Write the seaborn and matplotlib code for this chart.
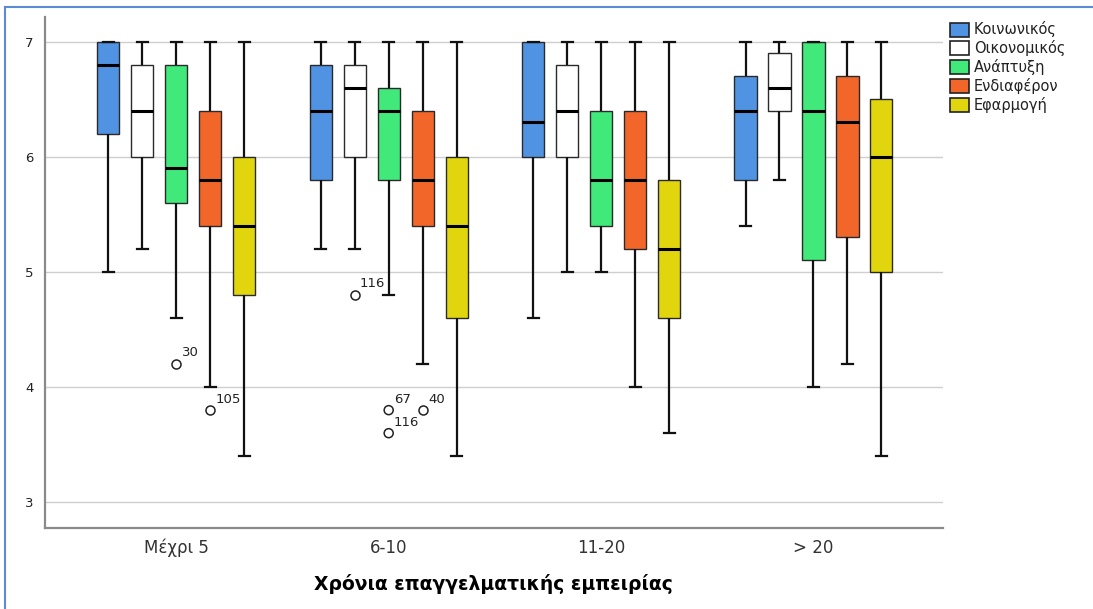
import matplotlib
matplotlib.use("Agg")
import matplotlib.pyplot as plt
from matplotlib.lines import Line2D
from matplotlib.patches import Patch
import seaborn as sns
import pandas as pd
import numpy as np

# groups on the x axis and the five variables (hue)
groups = ["Μέχρι 5", "6-10", "11-20", "> 20"]
variables = ["Κοινωνικός", "Οικονομικός", "Ανάπτυξη", "Ενδιαφέρον", "Εφαρμογή"]
colors = ["#5093e2", "#ffffff", "#40e97a", "#f26629", "#e1d50e"]

# five-number summaries: low whisker, Q1, median, Q3, high whisker
koinonikos = [[5.0, 6.2, 6.8, 7.0, 7.0], [5.2, 5.8, 6.4, 6.8, 7.0],
              [4.6, 6.0, 6.3, 7.0, 7.0], [5.4, 5.8, 6.4, 6.7, 7.0]]
oikonomikos = [[5.2, 6.0, 6.4, 6.8, 7.0], [5.2, 6.0, 6.6, 6.8, 7.0],
               [5.0, 6.0, 6.4, 6.8, 7.0], [5.8, 6.4, 6.6, 6.9, 7.0]]
anaptyxi = [[4.6, 5.6, 5.9, 6.8, 7.0], [4.8, 5.8, 6.4, 6.6, 7.0],
            [5.0, 5.4, 5.8, 6.4, 7.0], [4.0, 5.1, 6.4, 7.0, 7.0]]
endiaferon = [[4.0, 5.4, 5.8, 6.4, 7.0], [4.2, 5.4, 5.8, 6.4, 7.0],
              [4.0, 5.2, 5.8, 6.4, 7.0], [4.2, 5.3, 6.3, 6.7, 7.0]]
efarmogi = [[3.4, 4.8, 5.4, 6.0, 7.0], [3.4, 4.6, 5.4, 6.0, 7.0],
            [3.6, 4.6, 5.2, 5.8, 7.0], [3.4, 5.0, 6.0, 6.5, 7.0]]
summaries = [koinonikos, oikonomikos, anaptyxi, endiaferon, efarmogi]

# outliers: group, variable, value, case label
out_group = ["Μέχρι 5", "Μέχρι 5", "6-10", "6-10", "6-10", "6-10"]
out_var = ["Ανάπτυξη", "Ενδιαφέρον", "Οικονομικός", "Ανάπτυξη", "Ανάπτυξη", "Ενδιαφέρον"]
out_val = [4.2, 3.8, 4.8, 3.8, 3.6, 3.8]
out_lab = ["30", "105", "116", "67", "116", "40"]

rows = []
for v, summ in zip(variables, summaries):
    for g, s in zip(groups, summ):
        for val in s:
            rows.append({"group": g, "var": v, "value": val})
df = pd.DataFrame(rows)
outl = pd.DataFrame({"group": out_group, "var": out_var, "value": out_val})

plt.rcParams["font.family"] = ["DejaVu Sans"]
fig = plt.figure(figsize=(10.93, 6.09), dpi=100)
ax = fig.add_axes([0.0408, 0.1335, 0.822, 0.839])

ax.set_ylim(2.779, 7.217)
ax.set_yticks([3, 4, 5, 6, 7])
ax.grid(axis="y", color="#cfcfcf", linewidth=1)
ax.set_axisbelow(True)

palette = dict(zip(variables, colors))
sns.boxplot(data=df, x="group", y="value", hue="var", order=groups,
            hue_order=variables, palette=palette, whis=(0, 100),
            width=0.8, gap=0.35, showfliers=False, linecolor="#2a2a2a",
            linewidth=1.0, saturation=1,
            medianprops=dict(color="black", linewidth=2.2),
            whiskerprops=dict(color="#111111", linewidth=1.6),
            capprops=dict(color="#111111", linewidth=1.6),
            legend=False, ax=ax)

sns.stripplot(data=outl, x="group", y="value", hue="var", order=groups,
              hue_order=variables, palette={v: "white" for v in variables},
              dodge=True, jitter=False, size=6.5, edgecolor="#222222",
              linewidth=1.1, legend=False, ax=ax)

# case numbers next to the outliers
step = 0.8 / len(variables)
for g, v, val, lab in zip(out_group, out_var, out_val, out_lab):
    xpos = groups.index(g) + (variables.index(v) - 2) * step
    ax.text(xpos + 0.025, val + 0.04, lab, fontsize=9.5, color="#222222",
            ha="left", va="bottom")

ax.set_xlim(-0.62, 3.61)
for s in ["top", "right"]:
    ax.spines[s].set_visible(False)
for s in ["left", "bottom"]:
    ax.spines[s].set_color("#8a8a8a")
    ax.spines[s].set_linewidth(1.6)
ax.tick_params(axis="both", length=0)
ax.tick_params(axis="x", labelsize=12, labelcolor="#333333", pad=8)
ax.tick_params(axis="y", labelsize=9.5, labelcolor="#222222", pad=8)
ax.set_ylabel("")
ax.set_xlabel("Χρόνια επαγγελματικής εμπειρίας", fontsize=13.5,
              fontweight="bold", labelpad=12)

handles = [Patch(facecolor=c, edgecolor="#222222", linewidth=1.2) for c in colors]
ax.legend(handles, variables, loc="upper left", bbox_to_anchor=(1.0, 1.005),
          frameon=False, fontsize=10.5, handlelength=1.3, handleheight=1.1,
          handletextpad=0.3, labelspacing=0.2, borderaxespad=0.1,
          labelcolor="#222222")

# thin blue frame around the picture (top and left edges)
fig.add_artist(Line2D([5 / 1093, 1], [1 - 7 / 609, 1 - 7 / 609],
                      transform=fig.transFigure, color="#5b8bd6", linewidth=1.5))
fig.add_artist(Line2D([5 / 1093, 5 / 1093], [0, 1 - 7 / 609],
                      transform=fig.transFigure, color="#5b8bd6", linewidth=1.5))

fig.savefig("out.png", dpi=100)
